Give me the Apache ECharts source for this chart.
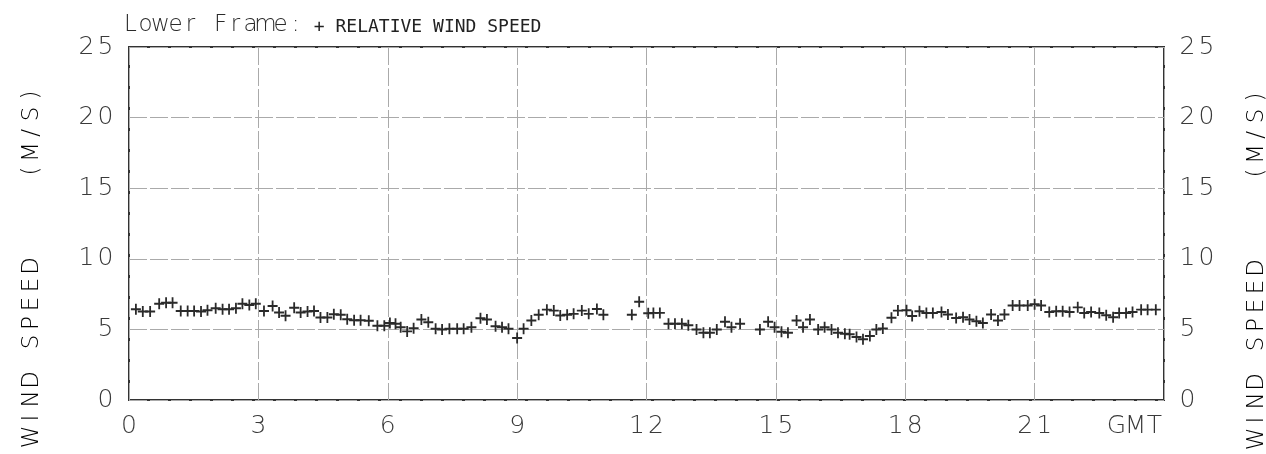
<!DOCTYPE html>
<html>
<head>
<meta charset="utf-8">
<script src="https://cdn.jsdelivr.net/npm/echarts@6/dist/echarts.min.js"></script>
<style>
html,body{margin:0;padding:0;background:#fff;}
#chart{width:1266px;height:454px;}
</style>
</head>
<body>
<div id="chart"></div>
<script>
// Time in hours GMT
const hours = [
  0.16,0.32,0.49,0.70,0.86,1.01,1.20,1.36,1.51,1.67,1.82,2.01,2.17,2.32,2.48,2.63,2.79,2.94,
  3.13,3.33,3.48,3.63,3.83,3.98,4.14,4.29,4.44,4.60,4.75,4.91,5.06,5.22,5.37,5.56,5.76,5.92,
  6.05,6.18,6.30,6.45,6.60,6.78,6.94,7.11,7.26,7.43,7.61,7.76,7.94,8.15,8.30,8.50,8.65,8.80,
  9.00,9.15,9.33,9.50,9.69,9.85,10.00,10.16,10.31,10.50,10.66,10.85,11.00,11.66,11.83,12.04,
  12.16,12.31,12.51,12.66,12.82,12.97,13.16,13.32,13.47,13.63,13.82,13.97,14.17,14.63,14.82,14.97,
  15.13,15.28,15.48,15.63,15.79,15.98,16.13,16.29,16.44,16.60,16.71,16.87,17.02,17.18,17.33,17.48,
  17.68,17.83,18.03,18.16,18.33,18.49,18.64,18.84,18.99,19.18,19.34,19.49,19.65,19.80,19.99,20.15,
  20.30,20.49,20.65,20.84,21.00,21.15,21.34,21.50,21.65,21.81,22.00,22.15,22.31,22.50,22.66,22.82,
  22.96,23.12,23.27,23.47,23.62,23.81
];
// Relative wind speed (m/s)
const speeds = [
  6.42,6.26,6.26,6.82,6.89,6.89,6.31,6.31,6.31,6.26,6.35,6.49,6.42,6.42,6.49,6.82,6.73,6.82,
  6.31,6.66,6.19,5.96,6.54,6.19,6.26,6.31,5.84,5.84,6.07,6.03,5.72,5.65,5.65,5.61,5.26,5.26,
  5.45,5.40,5.16,4.86,5.09,5.70,5.51,5.05,5.00,5.05,5.05,5.05,5.16,5.79,5.70,5.23,5.16,5.05,
  4.39,5.05,5.63,6.03,6.40,6.33,5.98,6.03,6.10,6.33,6.10,6.45,6.03,6.03,6.96,6.14,
  6.17,6.17,5.40,5.40,5.40,5.30,5.00,4.77,4.77,5.00,5.54,5.16,5.40,5.00,5.54,5.16,
  4.84,4.77,5.63,5.16,5.70,5.00,5.16,5.00,4.77,4.70,4.65,4.46,4.30,4.53,5.00,5.07,
  5.82,6.33,6.36,5.95,6.28,6.16,6.16,6.23,6.05,5.81,5.86,5.70,5.58,5.46,6.05,5.63,
  6.05,6.70,6.70,6.70,6.79,6.70,6.23,6.28,6.28,6.23,6.56,6.16,6.23,6.16,6.00,5.86,
  6.16,6.16,6.23,6.40,6.40,6.40
];
const xTickLabels = ['0','3','6','9','12','15','18','21','GMT'];
const yTickLabels = ['0','5','10','15','20','25'];
const titleMain = 'Lower Frame:';
const titleSub = '+ RELATIVE WIND SPEED';
const yName = 'WIND SPEED    (M/S)';

const FONT = '"DejaVu Sans", sans-serif';
const INK = '#3a3a3a';
function spaced(s, key){ key = key || 'd'; return s.split('').map(c => '{' + key + '|' + (c === ' ' ? '\u00a0' : c) + '}').join(''); }
const digitRich = { d: { width: 19, align: 'center', fontSize: 25, fontFamily: FONT, fontWeight: 200, color: INK } };
const nameRich = { d: { width: 19, align: 'center', fontSize: 23, fontFamily: FONT, fontWeight: 200, color: INK } };

const chart = echarts.init(document.getElementById('chart'));
chart.setOption({
  animation: false,
  backgroundColor: '#fff',
  title: {
    text: spaced(titleMain, 'a') + '{b|\u00a0' + titleSub + '}',
    left: 118, top: 9,
    textStyle: {
      fontWeight: 'normal',
      rich: {
        a: { width: 15, align: 'center', fontFamily: FONT, fontSize: 23, fontWeight: 200, color: '#2a2a2a' },
        b: { fontFamily: '"DejaVu Sans Mono", monospace', fontSize: 18, fontWeight: 'normal', color: '#222', padding: [3, 0, 0, 0] }
      }
    }
  },
  grid: { left: 129, right: 102, top: 47, bottom: 54, show: true, borderColor: '#333', borderWidth: 2, backgroundColor: 'transparent' },
  xAxis: {
    type: 'value', min: 0, max: 24, interval: 3,
    axisLine: { show: false }, axisTick: { show: false },
    splitLine: { show: true, lineStyle: { color: '#aaa', width: 1, type: [18, 3] } },
    axisLabel: {
      margin: 14, alignMaxLabel: 'right',
      formatter: v => spaced(xTickLabels[Math.round(v / 3)]),
      rich: digitRich
    }
  },
  yAxis: [
    {
      type: 'value', min: 0, max: 25, interval: 5, position: 'left',
      axisLine: { show: false }, axisTick: { show: false },
      splitLine: { show: true, lineStyle: { color: '#aaa', width: 1, type: [18, 3] } },
      axisLabel: { margin: 14, formatter: v => spaced(yTickLabels[Math.round(v / 5)]), rich: digitRich }
    },
    {
      type: 'value', min: 0, max: 25, interval: 5, position: 'right',
      axisLine: { show: false }, axisTick: { show: false }, splitLine: { show: false },
      axisLabel: { margin: 14, formatter: v => spaced(yTickLabels[Math.round(v / 5)]), rich: digitRich }
    }
  ],
  graphic: [
    { type: 'text', x: 32, y: 266, rotation: Math.PI / 2,
      style: { text: spaced(yName), rich: nameRich, align: 'center', verticalAlign: 'middle' } },
    { type: 'text', x: 1257, y: 268, rotation: Math.PI / 2,
      style: { text: spaced(yName), rich: nameRich, align: 'center', verticalAlign: 'middle' } }
  ],
  series: [{
    type: 'scatter',
    data: hours.map((h, i) => [h, speeds[i]]),
    symbol: 'path://M4.1,0H5.9V4.1H10V5.9H5.9V10H4.1V5.9H0V4.1H4.1Z',
    symbolSize: [10, 11],
    itemStyle: { color: '#2a2a2a', opacity: 1 },
    emphasis: { disabled: true }
  }]
});
</script>
</body>
</html>
